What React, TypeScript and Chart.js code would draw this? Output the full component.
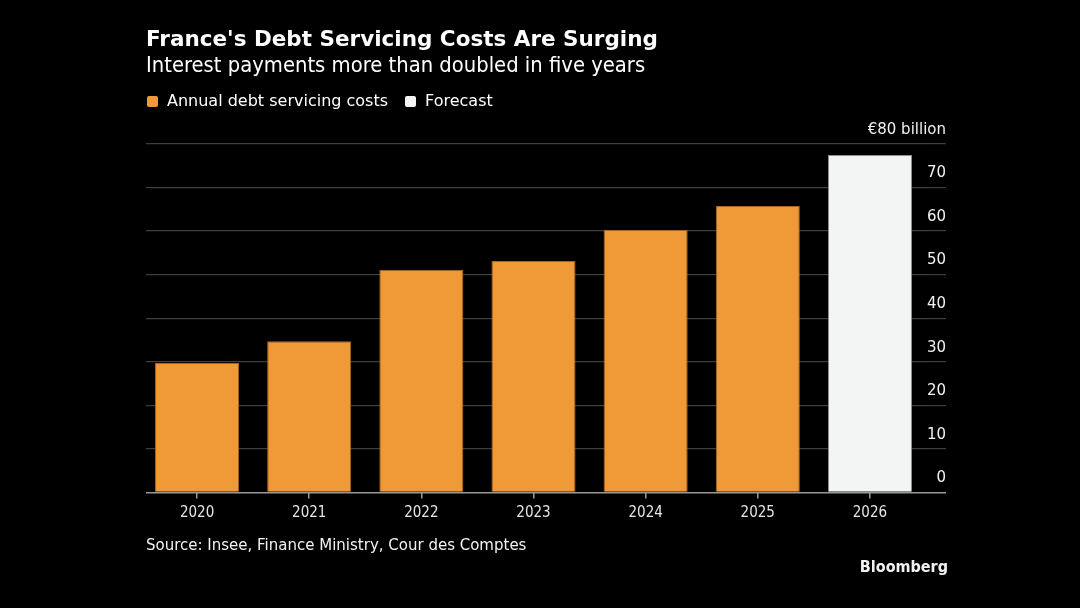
import React, { useEffect, useRef } from "react";
import { Chart, registerables } from "chart.js";

Chart.register(...registerables);

const categories = ["2020", "2021", "2022", "2023", "2024", "2025", "2026"];
const costs = [29.7, 34.7, 51.1, 53.1, 60.2, 65.7, 77.4];
const isForecast = [false, false, false, false, false, false, true];
const yTickValues = [0, 10, 20, 30, 40, 50, 60, 70, 80];
const legendItems = [
  { label: "Annual debt servicing costs", color: "#F09A37" },
  { label: "Forecast", color: "#F3F5F4" },
];

const FONT_C = '"DejaVu Sans Condensed", "DejaVu Sans", sans-serif';
const FONT = '"DejaVu Sans", sans-serif';
const ORANGE = "#F09A37";
const WHITE = "#F3F5F4";

const gridStartTrim = {
  id: "gridStartTrim",
  beforeDatasetsDraw(chart: any) {
    const { ctx, chartArea } = chart;
    ctx.save();
    ctx.fillStyle = "#000";
    ctx.fillRect(chartArea.left - 1, chartArea.top - 3, 6, chartArea.bottom - chartArea.top + 6);
    ctx.restore();
  },
};

export default function App() {
  const ref = useRef<HTMLCanvasElement | null>(null);

  useEffect(() => {
    document.body.style.margin = "0";
    document.body.style.background = "#000";
    const canvas = ref.current;
    if (!canvas) return;
    const chart = new Chart(canvas, {
      type: "bar",
      data: {
        labels: categories,
        datasets: [
          {
            data: costs,
            backgroundColor: isForecast.map((f) => (f ? WHITE : ORANGE)),
            borderColor: isForecast.map((f) => (f ? "#8f8f8f" : "#a8651f")),
            borderWidth: 1,
            categoryPercentage: 1,
            barPercentage: 0.75,
          },
        ],
      },
      plugins: [gridStartTrim],
      options: {
        animation: false,
        responsive: false,
        devicePixelRatio: 1,
        layout: { padding: { left: 141, right: 134, top: 143.7, bottom: 79.5 } },
        plugins: { legend: { display: false }, tooltip: { enabled: false } },
        scales: {
          x: {
            offset: true,
            grid: {
              display: true,
              drawOnChartArea: false,
              drawTicks: true,
              tickLength: 6,
              offset: false,
              color: "#9a9a9a",
              lineWidth: 1.5,
            },
            border: { display: false },
            ticks: {
              color: "#e6e6e6",
              font: { family: FONT_C, size: 15 },
              padding: 6,
            },
          },
          y: {
            position: "right",
            min: 0,
            max: 80,
            afterBuildTicks: (scale: any) => {
              scale.ticks = yTickValues.map((v) => ({ value: v }));
            },
            afterFit: (scale: any) => {
              scale.width = 20;
            },
            grid: {
              color: (ctx: any) =>
                ctx.tick && ctx.tick.value === 0 ? "#9a9a9a" : "#3e3e3e",
              lineWidth: (ctx: any) => (ctx.tick && ctx.tick.value === 0 ? 1.5 : 1.2),
              drawTicks: true,
              tickLength: 20,
            },
            border: { display: false },
            ticks: {
              mirror: true,
              padding: 20,
              labelOffset: -14,
              color: "#f2f2f2",
              font: { family: FONT, size: 15 },
              callback: (v: any) => (v === 80 ? "€80 billion" : String(v)),
            },
          },
        },
      },
    });
    return () => chart.destroy();
  }, []);

  const text = (style: React.CSSProperties, content: React.ReactNode) => (
    <div style={{ position: "absolute", whiteSpace: "nowrap", fontFamily: FONT, color: "#fff", ...style }}>
      {content}
    </div>
  );

  return (
    <div style={{ position: "relative", width: 1080, height: 608, background: "#000", overflow: "hidden" }}>
      <canvas ref={ref} width={1080} height={608} style={{ position: "absolute", left: 0, top: 0 }} />
      {text(
        { left: 146, top: 27, fontSize: 21.5, fontWeight: "bold", lineHeight: "24px" },
        "France's Debt Servicing Costs Are Surging"
      )}
      {text(
        { left: 146, top: 53, fontSize: 21.8, lineHeight: "24px", fontFamily: FONT_C },
        "Interest payments more than doubled in five years"
      )}
      <div
        style={{
          position: "absolute",
          left: 147,
          top: 90,
          display: "flex",
          alignItems: "center",
          fontFamily: FONT,
          fontSize: 16,
          lineHeight: "22px",
          color: "#fff",
          whiteSpace: "nowrap",
        }}
      >
        {legendItems.map((it, i) => (
          <div key={i} style={{ display: "flex", alignItems: "center", marginRight: 17 }}>
            <span
              style={{
                display: "inline-block",
                width: 11,
                height: 11,
                borderRadius: 2,
                background: it.color,
                marginRight: 9,
              }}
            />
            <span>{it.label}</span>
          </div>
        ))}
      </div>
      {text(
        { left: 146, top: 534, fontSize: 15, lineHeight: "22px", color: "#f2f2f2" },
        "Source: Insee, Finance Ministry, Cour des Comptes"
      )}
      {text(
        { right: 132, top: 556, fontSize: 16, fontWeight: "bold", lineHeight: "22px", color: "#f2f2f2", fontFamily: FONT_C },
        "Bloomberg"
      )}
    </div>
  );
}
